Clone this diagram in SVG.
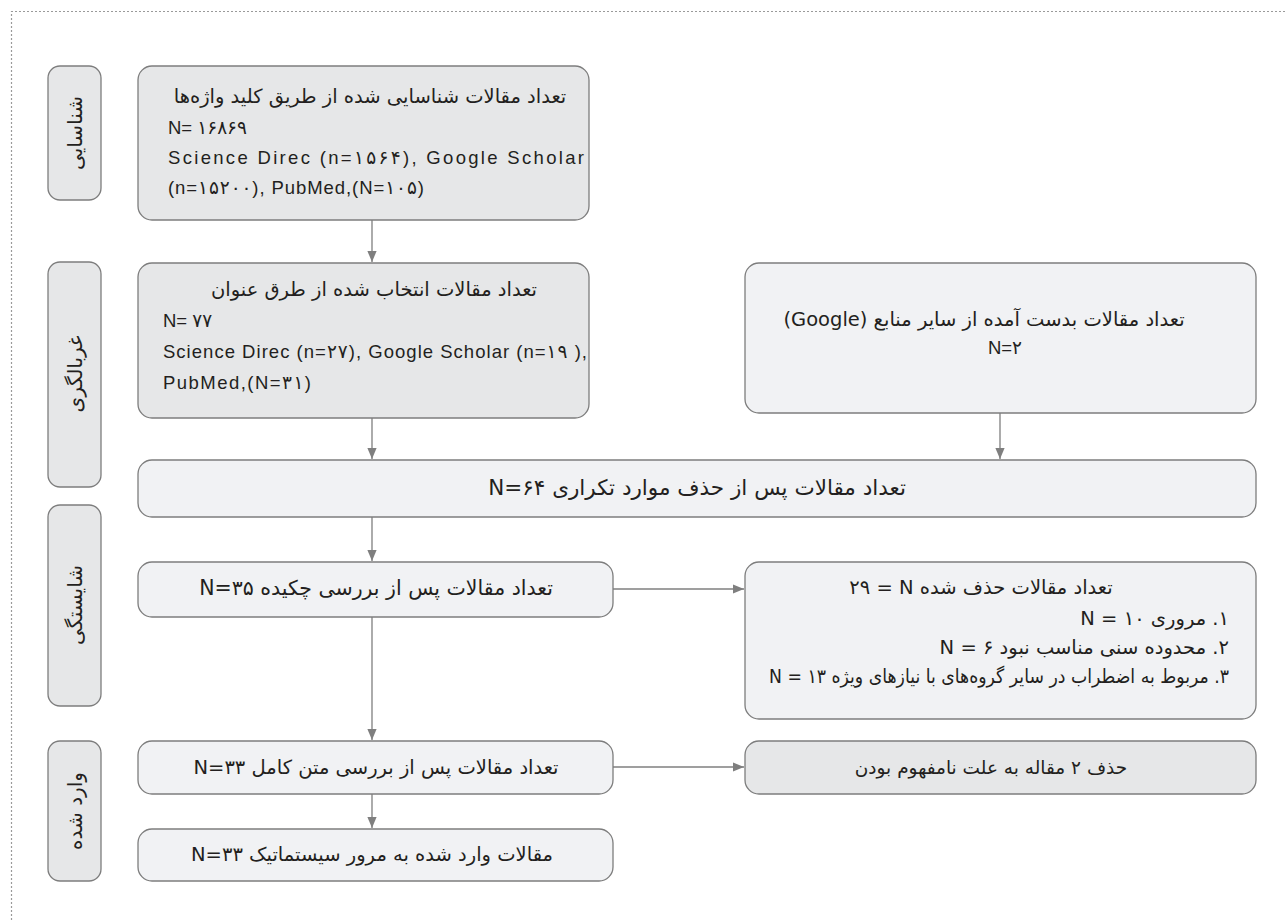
<svg xmlns="http://www.w3.org/2000/svg" width="1287" height="920" viewBox="0 0 1287 920">
<defs>
<marker id="ah" viewBox="0 0 10 10" refX="10" refY="5" markerWidth="11" markerHeight="11" markerUnits="userSpaceOnUse" orient="auto">
<path d="M0,0.8 L10,5 L0,9.2 Z" fill="#7f7f7f"/>
</marker>
<style>
.dk{fill:#e6e7e8;stroke:#7d7d7d;stroke-width:1.3}
.lt{fill:#f1f2f4;stroke:#7d7d7d;stroke-width:1.3}
.fa{font-family:"DejaVu Sans",sans-serif;font-size:19.5px;fill:#231f20}
.en{font-family:"Liberation Sans","DejaVu Sans",sans-serif;font-size:18.5px;fill:#231f20}
.side{font-family:"DejaVu Sans",sans-serif;font-size:20px;fill:#231f20}
.cn{stroke:#7f7f7f;stroke-width:1.3;fill:none;marker-end:url(#ah)}
</style>
</defs>
<rect width="1287" height="920" fill="#ffffff"/>
<path d="M11.5,920 V11.5 H1287" fill="none" stroke="#9a9a9a" stroke-width="1.2" stroke-dasharray="2,2"/>

<g id="stage-identification">
<rect class="dk" x="48" y="66" width="53" height="134" rx="12"/>
<text class="side" transform="translate(75,133) rotate(-90)" text-anchor="middle" dominant-baseline="central" direction="rtl">شناسایی</text>
</g>
<g id="stage-screening">
<rect class="dk" x="48" y="262" width="53" height="225" rx="12"/>
<text class="side" transform="translate(75,374) rotate(-90)" text-anchor="middle" dominant-baseline="central" direction="rtl">غربالگری</text>
</g>
<g id="stage-eligibility">
<rect class="dk" x="48" y="505" width="53" height="201" rx="12"/>
<text class="side" transform="translate(75,605) rotate(-90)" text-anchor="middle" dominant-baseline="central" direction="rtl">شایستگی</text>
</g>
<g id="stage-included">
<rect class="dk" x="48" y="741" width="53" height="140" rx="12"/>
<text class="side" transform="translate(75,811) rotate(-90)" text-anchor="middle" dominant-baseline="central" direction="rtl">وارد شده</text>
</g>

<g id="connectors">
<line class="cn" x1="372" y1="220" x2="372" y2="262"/>
<line class="cn" x1="372" y1="418" x2="372" y2="459"/>
<line class="cn" x1="1000" y1="413" x2="1000" y2="459"/>
<line class="cn" x1="372" y1="517" x2="372" y2="561"/>
<line class="cn" x1="372" y1="617" x2="372" y2="740"/>
<line class="cn" x1="613" y1="589" x2="744" y2="589"/>
<line class="cn" x1="372" y1="794" x2="372" y2="828"/>
<line class="cn" x1="613" y1="767" x2="744" y2="767"/>
</g>

<g id="n-identified">
<rect class="dk" x="138" y="66" width="451" height="154" rx="14"/>
<text class="fa" x="370" y="103" text-anchor="middle" direction="rtl">تعداد مقالات شناسایی شده از طریق کلید واژه‌ها</text>
<text class="en" x="168" y="134">N= ۱۶۸۶۹</text>
<text class="en" x="168" y="164" textLength="416" lengthAdjust="spacing">Science Direc (n=۱۵۶۴), Google Scholar</text>
<text class="en" x="168" y="194" textLength="256" lengthAdjust="spacing">(n=۱۵۲۰۰), PubMed,(N=۱۰۵)</text>
</g>

<g id="n-title-screened">
<rect class="dk" x="138" y="263" width="451" height="155" rx="14"/>
<text class="fa" x="374" y="296" text-anchor="middle" direction="rtl">تعداد مقالات انتخاب شده از طرق عنوان</text>
<text class="en" x="163" y="327">N= ۷۷</text>
<text class="en" x="163" y="358" textLength="424" lengthAdjust="spacing">Science Direc (n=۲۷), Google Scholar (n=۱۹ ),</text>
<text class="en" x="163" y="389" textLength="148" lengthAdjust="spacing">PubMed,(N=۳۱)</text>
</g>

<g id="n-other-sources">
<rect class="lt" x="745" y="263" width="511" height="150" rx="14"/>
<text class="fa" x="984" y="326" text-anchor="middle" direction="rtl">تعداد مقالات بدست آمده از سایر منابع (Google)</text>
<text class="en" x="1005" y="354" text-anchor="middle">N=۲</text>
</g>

<g id="n-deduplicated">
<rect class="lt" x="138" y="460" width="1118" height="57" rx="14"/>
<text class="fa" x="697" y="495" text-anchor="middle" direction="rtl" style="font-size:21.5px">تعداد مقالات پس از حذف موارد تکراری   N=۶۴</text>
</g>

<g id="n-abstract">
<rect class="lt" x="138" y="562" width="475" height="55" rx="14"/>
<text class="fa" x="376" y="595" text-anchor="middle" direction="rtl" style="font-size:20.5px">تعداد مقالات پس از بررسی چکیده  N=۳۵</text>
</g>

<g id="n-excluded">
<rect class="lt" x="745" y="562" width="511" height="157" rx="14"/>
<text class="fa" x="981" y="594" text-anchor="middle" direction="rtl">تعداد مقالات حذف شده N&#x200F; = ۲۹</text>
<text class="fa" x="1229" y="625" text-anchor="start" direction="rtl">۱. مروری ۱۰ = N</text>
<text class="fa" x="1229" y="654" text-anchor="start" direction="rtl">۲. محدوده سنی مناسب نبود ۶ = N</text>
<text class="fa" x="1229" y="683" text-anchor="start" direction="rtl" textLength="460" lengthAdjust="spacingAndGlyphs">۳. مربوط به اضطراب در سایر گروه‌های با نیازهای ویژه ۱۳ = N</text>
</g>

<g id="n-fulltext">
<rect class="lt" x="138" y="741" width="475" height="53" rx="14"/>
<text class="fa" x="376" y="774" text-anchor="middle" direction="rtl">تعداد مقالات پس از بررسی متن کامل  N=۳۳</text>
</g>

<g id="n-unclear">
<rect class="dk" x="745" y="741" width="511" height="53" rx="14"/>
<text class="fa" x="991" y="774" text-anchor="middle" direction="rtl" style="font-size:18.5px">حذف ۲ مقاله به علت نامفهوم بودن</text>
</g>

<g id="n-included">
<rect class="lt" x="138" y="829" width="475" height="52" rx="14"/>
<text class="fa" x="372" y="861" text-anchor="middle" direction="rtl">مقالات وارد شده به مرور سیستماتیک  N=۳۳</text>
</g>
</svg>
